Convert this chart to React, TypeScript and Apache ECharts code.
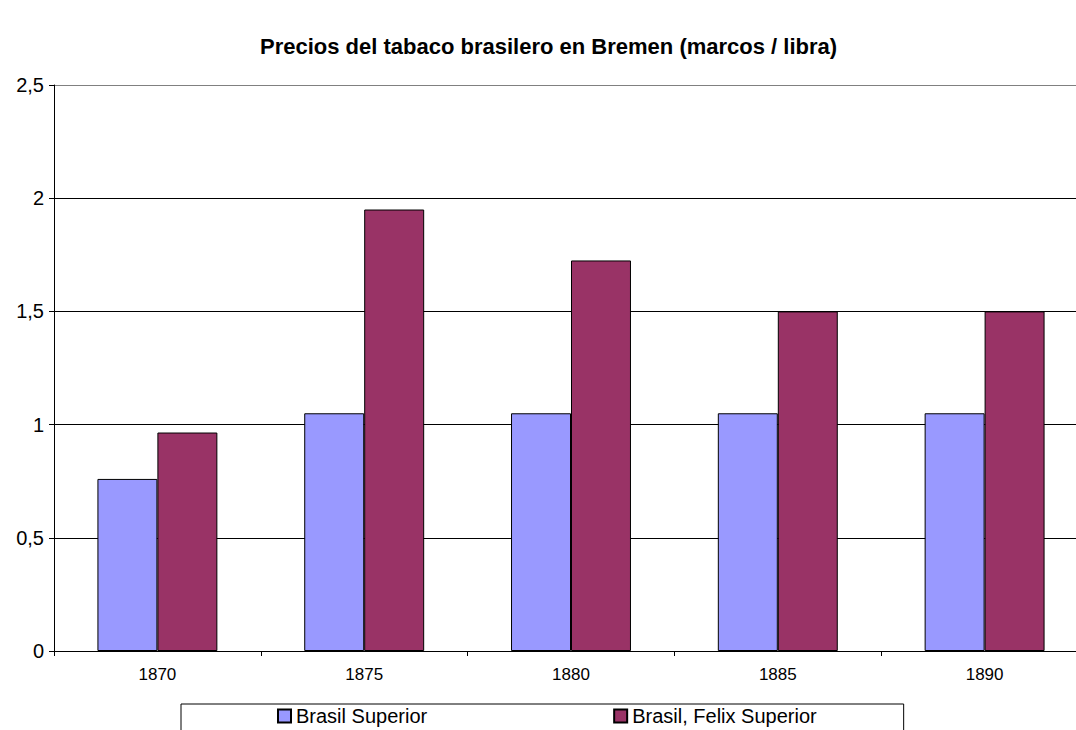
import React, { useEffect, useRef } from "react";
import * as echarts from "echarts";

const categories = ["1870", "1875", "1880", "1885", "1890"];
const brasilSuperior = [0.76, 1.05, 1.05, 1.05, 1.05];
const brasilFelixSuperior = [0.965, 1.95, 1.725, 1.5, 1.5];
const seriesNames = ["Brasil Superior", "Brasil, Felix Superior"];
const titleText = "Precios del tabaco brasilero en Bremen (marcos / libra)";

export default function App() {
  const ref = useRef<HTMLDivElement>(null);
  useEffect(() => {
    document.body.style.margin = "0";
    document.body.style.overflow = "hidden";
    const chart = echarts.init(ref.current!, null, { renderer: "svg" });
    const font = "'Liberation Sans', Arial, sans-serif";
    chart.setOption({
      animation: false,
      backgroundColor: "#ffffff",
      title: {
        text: titleText,
        left: 260,
        top: 35,
        padding: 0,
        textStyle: { fontFamily: font, fontSize: 22, fontWeight: "bold", color: "#000" },
      },
      legend: {
        left: 181,
        top: 704,
        padding: [2, 87, 20, 96],
        itemGap: 186,
        itemWidth: 13,
        itemHeight: 13,
        borderColor: "#000",
        borderWidth: 1,
        icon: "rect",
        textStyle: { fontFamily: font, fontSize: 20, lineHeight: 20, color: "#000" },
        data: seriesNames,
      },
      grid: { left: 54, right: 0, top: 85, bottom: 79 },
      xAxis: {
        type: "category",
        data: categories,
        axisLine: { lineStyle: { color: "#000", width: 1 } },
        axisTick: { show: true, alignWithLabel: false, length: 5, lineStyle: { color: "#000" } },
        axisLabel: { fontFamily: font, fontSize: 17, color: "#000", margin: 15 },
      },
      yAxis: {
        type: "value",
        min: 0,
        max: 2.5,
        interval: 0.5,
        axisLine: { show: true, lineStyle: { color: "#000", width: 1 } },
        axisTick: { show: true, length: 5, lineStyle: { color: "#000" } },
        splitLine: {
          show: true,
          lineStyle: { color: ["#000", "#000", "#000", "#000", "#000", "#808080"], width: 1 },
        },
        axisLabel: {
          fontFamily: font,
          fontSize: 20,
          color: "#000",
          margin: 10,
          formatter: (v: number) => String(v).replace(".", ","),
        },
      },
      series: [
        {
          name: seriesNames[0],
          type: "bar",
          data: brasilSuperior,
          barGap: "0%",
          barCategoryGap: "42%",
          itemStyle: { color: "#9999ff", borderColor: "#000", borderWidth: 1 },
        },
        {
          name: seriesNames[1],
          type: "bar",
          data: brasilFelixSuperior,
          barGap: "0%",
          barCategoryGap: "42%",
          itemStyle: { color: "#993366", borderColor: "#000", borderWidth: 1 },
        },
      ],
    });
    return () => chart.dispose();
  }, []);
  return <div ref={ref} style={{ width: 1088, height: 730 }} />;
}
